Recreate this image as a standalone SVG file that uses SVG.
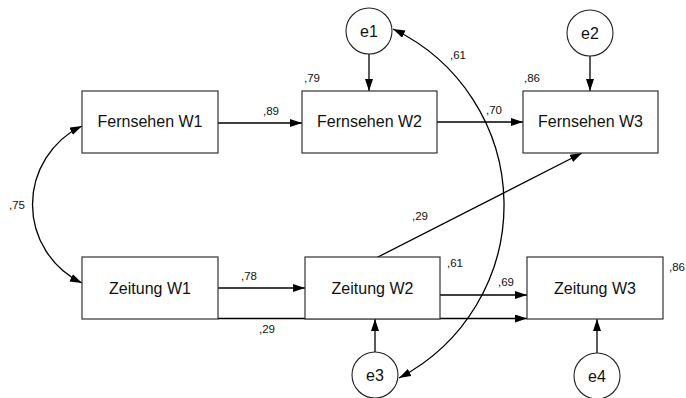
<svg xmlns="http://www.w3.org/2000/svg" width="686" height="398" viewBox="0 0 686 398">
  <style>
    .box { fill: #ffffff; stroke: #333333; stroke-width: 1.2; }
    .err { fill: #ffffff; stroke: #222222; stroke-width: 1.1; }
    .lbl { font-family: "Liberation Sans", Arial, sans-serif; font-size: 16px; fill: #111111; text-anchor: middle; }
    .num { font-family: "Liberation Sans", Arial, sans-serif; font-size: 11.5px; fill: #111111; }
    .path { fill: none; stroke: #000000; stroke-width: 1.3; }
  </style>
  <defs>
    <marker id="arrow" markerUnits="userSpaceOnUse" markerWidth="13" markerHeight="9" refX="12" refY="4" orient="auto-start-reverse">
      <path d="M0,0 L12,4 L0,8 z" fill="#000000"/>
    </marker>
  </defs>
  <rect width="686" height="398" fill="#ffffff"/>

  <!-- paths and covariances -->
  <g id="connectors">
    <line class="path" x1="218" y1="123" x2="302" y2="123" marker-end="url(#arrow)"/>
    <line class="path" x1="437" y1="122" x2="523" y2="122" marker-end="url(#arrow)"/>
    <line class="path" x1="218" y1="288" x2="305" y2="288" marker-end="url(#arrow)"/>
    <line class="path" x1="440" y1="295" x2="527" y2="295" marker-end="url(#arrow)"/>
    <line class="path" x1="218" y1="318.5" x2="527" y2="318.5" marker-end="url(#arrow)"/>
    <line class="path" x1="376" y1="258" x2="582" y2="153" marker-end="url(#arrow)"/>
    <line class="path" x1="369" y1="54" x2="369" y2="91" marker-end="url(#arrow)"/>
    <line class="path" x1="590" y1="56" x2="590" y2="91" marker-end="url(#arrow)"/>
    <line class="path" x1="375" y1="352" x2="375" y2="319" marker-end="url(#arrow)"/>
    <line class="path" x1="597" y1="353" x2="597" y2="319" marker-end="url(#arrow)"/>
    <path class="path" d="M82,126 A87,87 0 0 0 82,283" marker-start="url(#arrow)" marker-end="url(#arrow)"/>
    <path class="path" d="M393,29 A195,195 0 0 1 399,378" marker-start="url(#arrow)" marker-end="url(#arrow)"/>
  </g>

  <!-- observed variables -->
  <g id="fernsehen-w1">
    <rect class="box" x="82" y="91" width="136" height="62"/>
    <text class="lbl" x="150" y="127">Fernsehen W1</text>
  </g>
  <g id="fernsehen-w2">
    <rect class="box" x="302" y="91" width="135" height="62"/>
    <text class="lbl" x="369.5" y="127">Fernsehen W2</text>
  </g>
  <g id="fernsehen-w3">
    <rect class="box" x="523" y="91" width="135" height="62"/>
    <text class="lbl" x="590.5" y="127">Fernsehen W3</text>
  </g>
  <g id="zeitung-w1">
    <rect class="box" x="82" y="257" width="136" height="62"/>
    <text class="lbl" x="150" y="293.5">Zeitung W1</text>
  </g>
  <g id="zeitung-w2">
    <rect class="box" x="305" y="257" width="135" height="62"/>
    <text class="lbl" x="372.5" y="293.5">Zeitung W2</text>
  </g>
  <g id="zeitung-w3">
    <rect class="box" x="527" y="257" width="136" height="62"/>
    <text class="lbl" x="595" y="293.5">Zeitung W3</text>
  </g>

  <!-- error terms -->
  <g id="e1">
    <circle class="err" cx="369" cy="31" r="23"/>
    <text class="lbl" x="369" y="37">e1</text>
  </g>
  <g id="e2">
    <circle class="err" cx="590" cy="33" r="23"/>
    <text class="lbl" x="590" y="39">e2</text>
  </g>
  <g id="e3">
    <circle class="err" cx="375" cy="375" r="23"/>
    <text class="lbl" x="375" y="381">e3</text>
  </g>
  <g id="e4">
    <circle class="err" cx="597" cy="376" r="23"/>
    <text class="lbl" x="597" y="382">e4</text>
  </g>

  <!-- coefficients -->
  <g id="estimates">
    <text class="num" x="304" y="82">,79</text>
    <text class="num" x="263" y="115">,89</text>
    <text class="num" x="450" y="59">,61</text>
    <text class="num" x="486" y="114">,70</text>
    <text class="num" x="524" y="82">,86</text>
    <text class="num" x="9" y="209">,75</text>
    <text class="num" x="412" y="220">,29</text>
    <text class="num" x="447" y="267">,61</text>
    <text class="num" x="498" y="286">,69</text>
    <text class="num" x="669" y="271">,86</text>
    <text class="num" x="241" y="280">,78</text>
    <text class="num" x="259" y="333">,29</text>
  </g>
</svg>
